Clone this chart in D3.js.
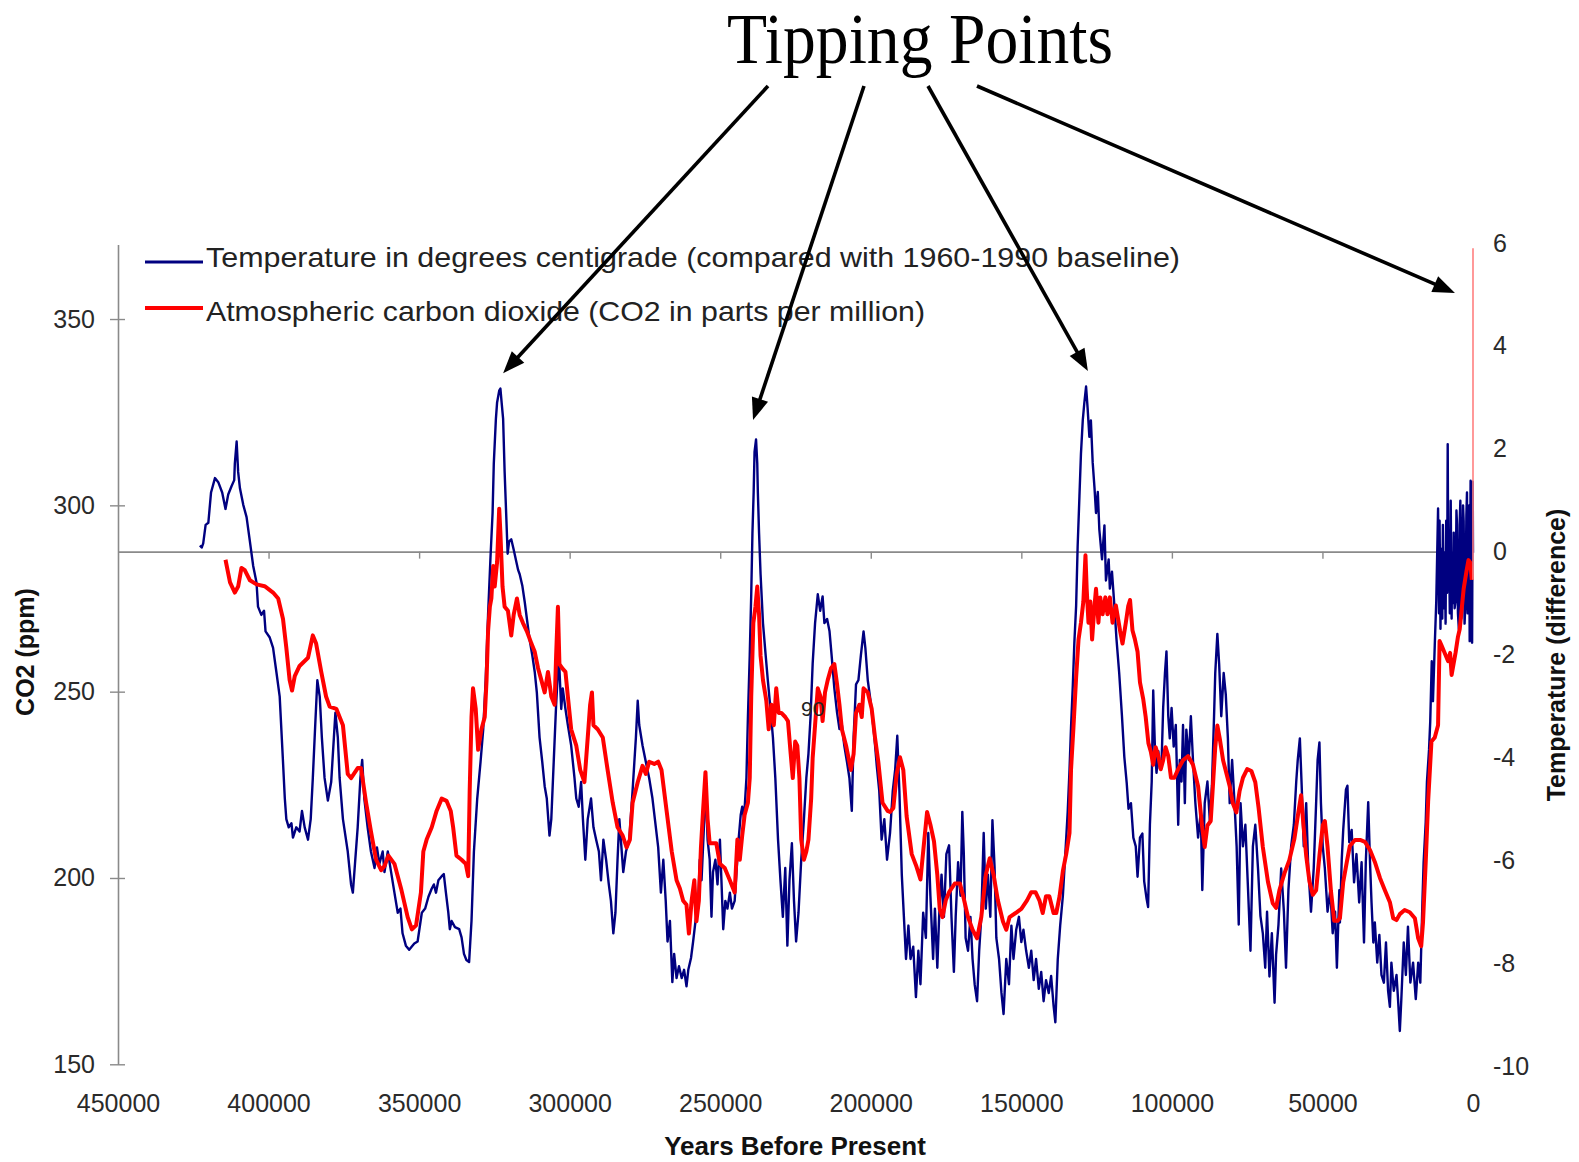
<!DOCTYPE html>
<html>
<head>
<meta charset="utf-8">
<script src="https://cdn.jsdelivr.net/npm/d3@7"></script>
<style>
  body { margin: 0; background: #ffffff; }
  svg text { font-family: "Liberation Sans", Arial, sans-serif; }
</style>
</head>
<body>
<svg id="chart" width="1579" height="1162"></svg>
<script>
// Vostok ice core record: [thousand years before present, value]
const temperature = [
  [422.8,0.12],[422.2,0.08],[421.7,0.16],[420.9,0.52],[420.0,0.56],[419.1,1.15],[417.8,1.43],[416.7,1.35],[415.4,1.15],[414.3,0.83],
  [413.4,1.11],[412.3,1.27],[411.4,1.39],[411.2,1.71],[410.6,2.14],[410.1,1.55],[409.5,1.23],[408.4,0.91],[407.3,0.67],[406.2,0.20],
  [405.1,-0.28],[404.0,-0.60],[403.5,-1.07],[402.4,-1.23],[401.5,-1.15],[401.0,-1.55],[399.6,-1.67],[398.5,-1.87],[397.4,-2.34],[396.3,-2.82],
  [395.2,-4.09],[394.6,-4.80],[394.1,-5.20],[393.3,-5.36],[392.4,-5.28],[391.9,-5.56],[390.8,-5.36],[389.7,-5.44],[388.9,-5.04],[388.0,-5.36],
  [386.9,-5.60],[386.0,-5.20],[385.3,-4.40],[384.5,-3.37],[383.8,-2.50],[383.0,-2.82],[382.3,-3.61],[381.4,-4.40],[380.3,-4.84],[379.2,-4.48],
  [378.3,-3.61],[377.8,-3.13],[377.0,-3.61],[376.4,-4.40],[375.3,-5.20],[373.7,-5.83],[372.6,-6.47],[372.0,-6.63],[371.2,-5.99],[370.4,-5.36],
  [369.5,-4.40],[368.9,-4.05],[368.2,-4.80],[367.1,-5.36],[366.0,-5.83],[364.8,-6.15],[364.0,-5.75],[363.2,-6.07],[362.1,-5.83],[361.5,-6.23],
  [360.4,-5.83],[359.3,-6.23],[358.2,-6.63],[357.1,-7.02],[356.2,-6.94],[355.5,-7.42],[354.4,-7.66],[353.3,-7.74],[351.6,-7.62],[350.5,-7.58],
  [349.1,-7.02],[348.0,-6.94],[346.9,-6.71],[345.8,-6.55],[345.1,-6.47],[344.4,-6.63],[343.6,-6.39],[342.5,-6.31],[341.8,-6.27],[341.1,-6.63],
  [340.3,-7.02],[339.8,-7.34],[339.2,-7.18],[338.1,-7.30],[336.7,-7.34],[335.9,-7.50],[335.1,-7.82],[334.3,-7.94],[333.4,-7.98],[332.6,-7.18],
  [331.8,-5.83],[330.7,-4.80],[329.6,-4.09],[328.7,-3.45],[327.9,-2.50],[327.1,-1.23],[326.3,-0.12],[325.6,0.75],[325.2,1.71],[324.5,2.58],
  [324.1,2.90],[323.4,3.13],[323.0,3.17],[322.6,2.90],[322.1,2.58],[321.6,1.55],[321.0,0.60],[320.6,-0.04],[320.1,0.20],[319.4,0.24],
  [318.6,0.04],[317.7,-0.20],[317.1,-0.36],[316.6,-0.44],[315.7,-0.67],[314.9,-0.99],[314.2,-1.31],[313.3,-1.71],[312.4,-2.02],[311.6,-2.34],
  [310.9,-2.74],[310.0,-3.61],[309.1,-4.09],[308.3,-4.56],[307.6,-4.80],[306.7,-5.52],[306.1,-5.20],[305.3,-4.09],[304.5,-2.98],[303.6,-2.02],
  [302.8,-3.06],[302.3,-2.66],[301.4,-3.06],[300.6,-3.37],[299.5,-3.77],[298.4,-4.40],[297.8,-4.80],[297.0,-4.96],[296.2,-4.48],[295.6,-5.20],
  [294.8,-5.99],[294.0,-5.20],[292.9,-4.80],[292.1,-5.36],[291.2,-5.60],[290.3,-5.83],[289.6,-6.39],[288.8,-5.60],[287.9,-5.99],[287.0,-6.47],
  [286.3,-6.79],[285.5,-7.42],[284.8,-7.02],[284.1,-5.99],[283.5,-5.20],[283.0,-5.60],[282.2,-6.23],[281.3,-5.83],[280.2,-5.60],[279.1,-4.64],
  [278.0,-3.61],[277.4,-2.90],[276.9,-3.37],[275.8,-3.77],[274.7,-4.09],[273.6,-4.40],[272.5,-4.80],[271.7,-5.20],[270.6,-5.75],[269.7,-6.63],
  [268.9,-5.99],[268.1,-6.79],[267.5,-7.58],[266.7,-7.18],[265.9,-8.37],[265.3,-7.82],[264.5,-8.29],[263.7,-8.06],[262.8,-8.29],[262.0,-8.13],
  [261.2,-8.45],[260.6,-8.13],[259.7,-7.90],[259.0,-7.58],[258.2,-7.18],[257.3,-6.79],[256.8,-5.99],[256.2,-6.39],[255.3,-5.20],[254.9,-4.40],
  [254.2,-5.60],[253.5,-5.99],[252.9,-7.10],[252.4,-6.23],[251.6,-5.99],[250.9,-6.47],[250.1,-5.60],[249.6,-6.39],[249.0,-7.34],[248.3,-6.79],
  [247.6,-6.94],[246.8,-6.63],[246.1,-6.94],[245.2,-6.79],[244.6,-6.23],[243.9,-5.60],[243.2,-5.12],[242.7,-4.96],[242.1,-5.20],[241.3,-4.40],
  [240.8,-3.21],[240.2,-2.02],[239.7,-0.83],[239.3,0.36],[238.9,1.15],[238.6,1.94],[238.1,2.18],[237.7,1.71],[237.5,1.15],[237.1,0.36],
  [236.6,-0.44],[235.8,-1.39],[234.9,-2.02],[234.2,-2.50],[233.3,-3.06],[232.5,-3.61],[231.7,-4.40],[230.8,-5.60],[230.0,-6.39],[229.2,-7.10],
  [228.4,-6.15],[227.7,-7.66],[227.0,-6.39],[226.2,-5.67],[225.5,-6.79],[224.8,-7.58],[224.0,-7.02],[223.1,-5.99],[222.2,-5.20],[221.4,-4.40],
  [220.7,-3.93],[220.0,-3.21],[219.3,-2.18],[218.5,-1.39],[217.6,-0.83],[216.8,-1.15],[216.0,-0.87],[215.4,-1.39],[214.5,-1.31],[213.7,-1.55],
  [213.0,-2.02],[212.1,-2.66],[211.2,-3.13],[210.4,-3.45],[209.6,-3.37],[208.8,-3.77],[207.9,-4.09],[207.1,-4.40],[206.3,-5.04],[205.7,-3.61],
  [204.9,-2.58],[204.1,-2.50],[203.3,-2.02],[202.4,-1.55],[201.8,-1.87],[201.0,-2.50],[199.9,-2.98],[198.8,-3.61],[198.0,-4.17],[197.2,-4.64],
  [196.4,-5.60],[195.5,-5.20],[194.6,-5.99],[193.6,-5.47],[192.7,-4.65],[191.9,-4.24],[191.2,-3.58],[190.5,-4.65],[189.7,-6.28],[189.0,-7.10],
  [188.3,-7.92],[187.5,-7.27],[186.8,-7.92],[185.9,-7.68],[185.0,-8.66],[184.2,-7.76],[183.5,-8.41],[182.6,-7.02],[181.7,-7.51],[180.9,-5.47],
  [180.2,-6.69],[179.3,-7.92],[178.7,-6.94],[177.9,-8.09],[177.3,-7.10],[176.5,-6.28],[175.7,-7.10],[174.9,-5.88],[174.0,-5.71],[173.2,-7.10],
  [172.4,-8.17],[171.8,-7.10],[171.0,-6.04],[170.2,-6.69],[169.6,-5.06],[169.1,-5.88],[168.5,-7.51],[167.7,-7.76],[166.9,-7.10],[166.2,-7.92],
  [165.5,-8.41],[164.7,-8.74],[164.0,-7.76],[163.3,-7.10],[162.5,-5.47],[161.8,-6.94],[161.1,-6.28],[160.3,-7.10],[159.6,-5.22],[158.9,-6.12],
  [158.3,-7.51],[157.4,-7.92],[156.6,-8.58],[155.9,-8.99],[155.0,-7.92],[154.1,-8.41],[153.3,-7.27],[152.6,-7.92],[151.7,-7.35],[150.8,-7.10],
  [150.0,-7.59],[149.3,-7.35],[148.4,-7.76],[147.5,-8.09],[146.7,-7.76],[145.9,-8.33],[145.1,-7.92],[144.2,-8.50],[143.4,-8.17],[142.6,-8.74],
  [141.8,-8.33],[140.9,-8.58],[140.1,-8.25],[139.3,-8.82],[138.7,-9.15],[137.9,-7.92],[137.1,-7.27],[136.2,-6.69],[135.4,-5.88],[134.6,-5.06],
  [134.0,-4.24],[133.5,-3.42],[132.9,-2.60],[132.4,-1.78],[131.8,-1.05],[131.3,0.10],[130.7,1.08],[130.2,1.90],[129.6,2.55],[129.1,2.88],
  [128.5,3.21],[128.0,2.80],[127.4,2.23],[126.9,2.55],[126.3,1.73],[125.7,1.24],[125.2,0.75],[124.6,1.16],[124.1,0.43],[123.2,-0.15],
  [122.4,0.51],[121.9,-0.56],[121.0,-0.15],[120.6,-0.72],[119.9,-0.39],[119.1,-1.05],[118.4,-1.70],[117.5,-2.36],[116.6,-3.18],[115.8,-3.99],
  [115.0,-4.50],[114.4,-5.00],[113.6,-4.89],[112.8,-5.56],[112.0,-5.73],[111.4,-6.32],[110.6,-5.56],[109.8,-5.48],[109.2,-6.41],[108.4,-6.75],
  [107.9,-6.91],[107.3,-5.31],[106.7,-4.47],[106.2,-2.70],[105.6,-3.88],[105.1,-4.30],[104.5,-3.88],[104.0,-4.22],[103.4,-4.05],[102.9,-3.04],
  [102.3,-2.36],[101.8,-1.94],[101.2,-3.20],[100.7,-3.63],[100.1,-3.04],[99.4,-3.79],[98.7,-3.37],[97.9,-5.31],[97.4,-4.05],[96.8,-4.47],
  [96.3,-3.37],[95.7,-4.89],[95.2,-3.46],[94.4,-4.05],[93.7,-3.20],[93.0,-4.05],[92.2,-4.89],[91.3,-5.56],[90.4,-5.06],[89.9,-6.58],
  [89.1,-4.89],[88.2,-4.47],[87.4,-5.23],[86.7,-4.55],[86.0,-3.20],[85.6,-2.36],[84.9,-1.60],[84.3,-2.19],[83.6,-3.20],[82.8,-2.36],
  [82.1,-2.78],[81.4,-3.63],[80.8,-4.89],[80.0,-4.05],[79.2,-4.89],[78.5,-5.73],[77.8,-7.25],[77.2,-4.89],[76.4,-5.73],[75.6,-5.31],
  [74.7,-6.58],[73.9,-7.76],[73.1,-5.73],[72.3,-5.31],[71.4,-6.16],[70.6,-7.08],[69.8,-7.42],[69.0,-8.09],[68.4,-7.00],[67.6,-8.26],
  [66.8,-7.42],[65.9,-8.77],[65.4,-7.84],[64.6,-7.25],[63.7,-6.16],[62.8,-7.00],[62.1,-8.09],[61.3,-6.58],[60.4,-5.73],[59.5,-5.31],
  [58.7,-4.47],[58.2,-4.05],[57.5,-3.63],[56.9,-4.55],[56.2,-5.73],[55.4,-4.89],[54.7,-6.16],[53.8,-7.00],[52.9,-6.16],[52.1,-4.89],
  [51.6,-4.05],[51.0,-3.71],[50.5,-4.89],[49.9,-5.73],[49.2,-6.16],[48.3,-7.00],[47.4,-6.58],[46.6,-7.42],[45.8,-7.00],[45.2,-8.09],
  [44.4,-6.58],[44.2,-7.21],[43.6,-6.00],[43.1,-5.41],[42.2,-4.63],[41.7,-4.55],[41.1,-5.65],[40.3,-5.41],[39.5,-6.43],[38.7,-5.88],
  [37.8,-6.82],[37.0,-6.04],[36.2,-7.60],[35.6,-6.04],[34.8,-4.87],[34.2,-6.04],[33.7,-6.82],[33.1,-7.60],[32.6,-7.21],[31.8,-7.99],
  [31.1,-7.45],[30.4,-8.23],[29.6,-8.38],[28.9,-7.60],[28.2,-8.54],[27.6,-8.85],[27.1,-7.99],[26.3,-8.54],[25.4,-8.23],[24.9,-8.70],
  [24.3,-9.32],[23.8,-8.70],[23.0,-7.60],[22.3,-8.23],[21.6,-7.29],[20.8,-8.38],[19.9,-7.99],[19.0,-8.70],[18.2,-7.99],[17.5,-8.38],
  [16.8,-6.82],[16.4,-6.04],[15.7,-5.26],[15.3,-4.48],[14.6,-3.85],[14.2,-3.30],[13.7,-2.13],[13.3,-2.91],[12.7,-1.82],[12.2,-0.96],
  [11.6,0.84],[11.3,-1.20],[11.1,0.60],[10.8,-1.50],[10.5,0.05],[10.2,-1.30],[10.0,0.52],[9.7,-1.10],[9.4,-0.02],[9.1,-1.40],
  [8.9,0.60],[8.6,-0.80],[8.4,2.09],[8.2,-0.60],[8.0,0.21],[7.7,-1.20],[7.4,0.99],[7.1,-1.30],[6.9,-0.02],[6.6,-1.00],
  [6.4,0.37],[6.1,-1.10],[5.8,-0.96],[5.5,0.80],[5.3,0.52],[5.0,-1.20],[4.7,-1.51],[4.4,0.60],[4.2,0.99],[3.9,-1.30],
  [3.6,-0.41],[3.3,0.90],[3.1,0.60],[2.8,-1.40],[2.5,-0.96],[2.2,0.70],[2.0,1.15],[1.8,-1.20],[1.6,-0.57],[1.3,0.90],
  [1.1,-1.74],[0.8,1.38],[0.6,-1.00],[0.5,0.21],[0.3,-1.77],[0.1,1.36],[0.0,-0.02]
];

const co2 = [
  [414.3,285.4],[412.8,279.3],[411.2,276.6],[410.1,278.2],[409.0,283.2],[407.9,282.6],[406.2,279.9],[404.0,278.8],[401.3,278.3],[398.5,276.6],
  [396.8,275.0],[395.2,269.5],[394.1,261.8],[393.0,253.1],[392.2,250.3],[391.3,254.2],[389.7,256.9],[386.9,259.1],[385.3,265.1],[384.2,262.9],
  [382.5,255.3],[380.9,248.7],[379.7,246.0],[377.5,245.4],[375.3,241.0],[373.7,227.9],[372.6,226.8],[370.4,229.5],[369.3,229.5],[367.6,220.2],
  [366.0,212.5],[364.3,204.9],[362.6,202.1],[361.5,203.2],[360.2,206.0],[358.2,203.8],[356.0,197.2],[353.8,189.5],[352.4,186.2],[351.0,187.3],
  [349.4,196.1],[348.6,207.1],[347.5,210.3],[345.8,213.6],[344.2,218.0],[342.5,221.3],[340.9,220.7],[339.5,218.0],[338.7,213.6],[337.6,206.0],
  [335.9,204.9],[334.5,203.8],[333.7,200.5],[333.2,223.5],[332.6,243.2],[332.1,250.9],[331.2,245.4],[330.4,234.4],[329.3,239.9],[328.2,243.2],
  [327.6,253.1],[327.1,266.2],[326.5,272.8],[326.0,275.0],[325.4,283.7],[324.9,278.2],[324.1,284.8],[323.4,299.1],[323.0,292.5],[322.3,278.2],
  [321.6,272.8],[320.5,271.7],[319.4,265.1],[318.6,270.6],[317.5,275.0],[316.6,270.6],[315.5,268.4],[314.2,266.2],[312.7,262.9],[311.6,260.7],
  [310.5,256.3],[309.4,253.1],[308.3,249.8],[307.2,255.3],[306.1,248.7],[305.0,246.5],[304.5,259.6],[303.9,272.8],[303.4,257.4],[302.5,256.3],
  [301.4,255.3],[300.6,248.7],[299.5,239.9],[297.8,235.5],[296.5,229.0],[295.1,225.7],[294.0,237.7],[293.2,246.5],[292.6,249.8],[292.1,241.0],
  [290.7,239.9],[289.0,237.7],[287.4,229.0],[285.7,220.2],[284.1,213.6],[282.4,211.4],[281.1,208.2],[280.0,210.3],[279.1,220.2],[277.4,225.7],
  [275.8,230.1],[274.7,227.9],[273.6,231.2],[271.9,230.6],[270.6,231.2],[269.5,229.0],[267.8,218.0],[266.1,207.1],[264.5,199.4],[263.4,197.2],
  [262.3,193.9],[261.2,192.8],[260.4,185.1],[259.5,193.9],[258.6,199.4],[257.9,188.4],[257.1,193.9],[256.4,208.2],[255.7,218.0],[254.9,228.4],
  [254.2,215.8],[253.5,209.3],[252.4,209.3],[251.3,209.3],[250.1,203.8],[248.5,202.7],[246.8,199.4],[245.2,196.1],[244.3,210.3],[243.5,204.9],
  [242.7,211.4],[241.9,216.9],[240.8,220.2],[240.2,226.8],[239.7,248.7],[239.0,268.4],[238.3,272.8],[237.7,278.2],[237.1,270.6],[236.6,259.6],
  [235.8,253.1],[234.7,247.6],[233.9,239.9],[233.0,246.5],[232.2,241.0],[231.4,250.9],[230.6,244.3],[229.7,244.3],[228.4,243.2],[227.5,242.1],
  [226.6,233.3],[225.9,226.8],[225.1,236.6],[224.4,235.5],[223.7,226.8],[223.1,210.3],[222.2,204.9],[221.4,207.1],[220.7,210.3],[219.8,221.3],
  [219.3,232.2],[218.5,241.0],[217.6,250.9],[216.7,248.7],[216.0,242.1],[215.2,249.8],[214.3,253.1],[213.2,256.3],[212.1,257.4],[211.2,252.0],
  [210.4,246.5],[209.6,239.9],[208.2,235.5],[206.6,229.0],[205.7,233.3],[204.9,244.3],[203.8,246.5],[203.0,243.2],[202.4,250.9],[201.0,249.8],
  [199.7,245.4],[198.6,237.7],[197.5,231.2],[196.1,220.2],[194.4,218.0],[193.6,217.7],[192.5,218.8],[191.4,227.9],[190.3,232.4],[189.2,229.0],
  [188.1,216.6],[186.4,206.4],[184.8,203.0],[183.5,199.6],[182.4,208.7],[181.3,217.7],[180.2,214.3],[179.0,209.8],[177.9,200.8],[177.1,191.7],
  [176.2,189.5],[175.1,194.0],[174.0,196.2],[172.1,198.5],[170.4,198.5],[169.3,195.1],[167.7,189.5],[166.2,186.1],[164.7,183.8],[163.3,189.5],
  [161.8,200.8],[160.5,205.3],[159.2,200.8],[157.8,194.0],[156.1,188.3],[155.0,186.1],[153.9,189.5],[151.9,190.6],[150.0,191.7],[148.1,194.0],
  [146.7,196.2],[145.3,196.2],[144.0,194.0],[142.9,190.6],[141.8,195.1],[140.7,195.1],[139.3,190.6],[138.4,190.6],[137.3,195.1],[136.2,201.9],
  [135.1,206.4],[134.0,212.1],[133.5,229.0],[132.7,240.3],[131.8,253.9],[131.0,264.0],[130.2,268.5],[129.4,274.2],[128.7,286.6],[128.3,277.6],
  [127.7,268.5],[127.1,274.2],[126.5,264.0],[125.7,273.1],[125.2,277.6],[124.4,268.5],[123.8,275.3],[123.0,270.8],[122.1,275.3],[121.4,270.8],
  [120.6,275.3],[119.7,268.5],[118.6,273.1],[117.2,266.3],[116.4,262.9],[115.3,268.5],[114.5,273.0],[113.9,274.6],[113.1,266.5],[112.3,264.1],
  [111.4,260.7],[110.6,252.5],[109.5,247.9],[108.7,243.2],[107.8,236.2],[107.0,233.9],[106.2,230.4],[105.4,235.1],[104.5,232.7],[103.7,229.2],
  [102.9,231.6],[102.1,235.1],[101.2,232.7],[100.3,226.9],[99.2,226.9],[97.9,229.2],[96.3,231.6],[94.6,232.7],[93.0,230.4],[91.3,224.6],
  [90.0,214.1],[89.1,208.3],[88.2,214.1],[87.1,215.3],[86.3,225.7],[85.6,235.1],[84.9,240.9],[84.1,237.4],[83.0,231.6],[81.9,228.1],
  [80.8,224.6],[79.7,219.9],[78.6,217.6],[77.5,223.4],[76.4,226.9],[75.0,229.2],[73.6,228.7],[72.3,225.7],[71.2,218.8],[69.8,208.3],
  [68.1,199.0],[66.5,193.2],[65.4,192.0],[64.3,196.7],[62.6,201.3],[61.0,204.8],[59.3,210.6],[58.0,217.6],[57.1,222.2],[56.3,214.1],
  [55.4,206.0],[54.3,199.0],[53.2,195.5],[52.1,196.7],[51.0,206.0],[49.9,214.1],[49.2,215.3],[48.3,208.3],[47.2,196.7],[46.1,188.5],
  [45.0,188.5],[44.2,189.2],[43.1,198.9],[41.9,204.3],[40.9,208.6],[39.2,210.2],[37.5,210.2],[35.9,209.7],[34.2,207.5],[32.6,204.3],
  [30.9,200.0],[29.3,196.8],[27.6,193.5],[26.5,189.2],[25.4,188.7],[24.3,190.3],[22.7,191.4],[21.0,190.8],[19.3,189.2],[18.2,183.8],
  [17.2,181.7],[16.6,188.1],[15.7,204.3],[14.9,220.5],[13.8,236.6],[12.7,237.7],[11.6,241.0],[11.1,263.6],[10.5,262.5],[9.4,260.4],
  [8.3,258.2],[7.6,260.4],[7.1,254.5],[5.8,260.4],[5.0,264.7],[4.4,266.8],[3.1,277.6],[2.1,282.6],[1.5,285.3],[0.9,284.6],[0.4,280.0]
];

// Present-day CO2 reading, drawn as a spike at year 0
const presentCo2 = 369;

const co2Ticks = [150, 200, 250, 300, 350];
const tempTicks = [-10, -8, -6, -4, -2, 0, 2, 4, 6];
const yearTicks = [450000, 400000, 350000, 300000, 250000, 200000, 150000, 100000, 50000, 0];

// Interglacial peaks pointed to by the annotation arrows: [kyr BP, °C]
const tippingPoints = [[322.1, 3.47], [239.1, 2.56], [127.9, 3.51], [6.0, 5.03]];

const legendLabels = [
  "Temperature in degrees centigrade (compared with 1960-1990 baseline)",
  "Atmospheric carbon dioxide (CO2 in parts per million)"
];

const svg = d3.select("#chart");

const x = d3.scaleLinear().domain([450000, 0]).range([118, 1473]);
const yCo2 = d3.scaleLinear().domain([150, 370]).range([1064.3, 244.5]);
const yTemp = d3.scaleLinear().domain([-10, 6]).range([1066, 243]);

const axisGrey = "#8a8a8a";
const labelColor = "#2a2a2a";

// zero-degree baseline with year ticks
const zeroAxis = svg.append("g")
  .attr("transform", `translate(0,${yTemp(0)})`)
  .call(d3.axisBottom(x)
    .tickValues(yearTicks.filter(d => d > 0 && d < 450000))
    .tickSize(7).tickSizeOuter(0).tickFormat(""));
zeroAxis.select(".domain").attr("stroke", axisGrey).attr("stroke-width", 1.6);
zeroAxis.selectAll(".tick line").attr("stroke", axisGrey).attr("stroke-width", 1.4);

// temperature series
const tempLine = d3.line()
  .x(d => x(d[0] * 1000))
  .y(d => yTemp(d[1]));
svg.append("path")
  .datum(temperature)
  .attr("fill", "none")
  .attr("stroke", "#000080")
  .attr("stroke-width", 2.4)
  .attr("stroke-linejoin", "round")
  .attr("d", tempLine);

// CO2 series
const co2Line = d3.line()
  .x(d => x(d[0] * 1000))
  .y(d => yCo2(d[1]));
svg.append("path")
  .datum(co2)
  .attr("fill", "none")
  .attr("stroke", "#ff0000")
  .attr("stroke-width", 4)
  .attr("stroke-linejoin", "round")
  .attr("d", co2Line);

// modern CO2 spike
svg.append("path")
  .datum([[0, co2[co2.length - 1][1]], [0, presentCo2]])
  .attr("fill", "none")
  .attr("stroke", "#ff7f7f")
  .attr("stroke-width", 1.6)
  .attr("d", co2Line);

// left CO2 axis, ticks crossing the line
const leftAxis = svg.append("g")
  .attr("transform", `translate(${x(450000)},0)`)
  .call(d3.axisLeft(yCo2).tickValues(co2Ticks).tickSize(8).tickSizeOuter(0).tickPadding(15));
leftAxis.select(".domain").attr("stroke", axisGrey).attr("stroke-width", 1.6);
leftAxis.selectAll(".tick line").attr("stroke", axisGrey).attr("stroke-width", 1.4).attr("x2", -8).attr("x1", 7);
leftAxis.selectAll(".tick text")
  .attr("font-size", 25).attr("fill", labelColor)
  .style("font-family", "'Liberation Sans', Arial, sans-serif");

// right temperature axis labels
const rightAxis = svg.append("g")
  .attr("transform", `translate(${x(0)},0)`)
  .call(d3.axisRight(yTemp).tickValues(tempTicks).tickSize(0).tickPadding(20).tickFormat(d => String(d)));
rightAxis.select(".domain").remove();
rightAxis.selectAll(".tick text")
  .attr("font-size", 25).attr("fill", labelColor)
  .style("font-family", "'Liberation Sans', Arial, sans-serif");

// year labels along the bottom
const bottomAxis = svg.append("g")
  .attr("transform", "translate(0,1094)")
  .call(d3.axisBottom(x).tickValues(yearTicks).tickSize(0).tickPadding(0).tickFormat(d => String(d)));
bottomAxis.select(".domain").remove();
bottomAxis.selectAll(".tick text")
  .attr("font-size", 25).attr("fill", labelColor)
  .style("font-family", "'Liberation Sans', Arial, sans-serif");

// axis titles
svg.append("text")
  .attr("transform", "translate(34,652) rotate(-90)")
  .attr("text-anchor", "middle")
  .attr("font-size", 25).attr("font-weight", "bold").attr("fill", "#111")
  .text("CO2 (ppm)");
svg.append("text")
  .attr("transform", "translate(1565,655) rotate(-90)")
  .attr("text-anchor", "middle")
  .attr("font-size", 25).attr("font-weight", "bold").attr("fill", "#111")
  .text("Temperature (difference)");
svg.append("text")
  .attr("x", 795).attr("y", 1155)
  .attr("text-anchor", "middle")
  .attr("font-size", 26).attr("font-weight", "bold").attr("fill", "#111")
  .text("Years Before Present");

// stray data label
svg.append("text")
  .attr("x", 801).attr("y", 716)
  .attr("font-size", 21).attr("fill", "#222")
  .text("90");

// legend
const legendColors = ["#000080", "#ff0000"];
const legendWidths = [974, 719];
const legendLineY = [262, 308];
const legendTextY = [267, 321];
legendLabels.forEach((label, i) => {
  svg.append("line")
    .attr("x1", 145).attr("x2", 203).attr("y1", legendLineY[i]).attr("y2", legendLineY[i])
    .attr("stroke", legendColors[i]).attr("stroke-width", i ? 4 : 3.2);
  svg.append("text")
    .attr("x", 206).attr("y", legendTextY[i])
    .attr("font-size", 28).attr("fill", "#222")
    .attr("textLength", legendWidths[i]).attr("lengthAdjust", "spacingAndGlyphs")
    .text(label);
});

// title
svg.append("text")
  .attr("x", 727).attr("y", 63)
  .attr("font-size", 72)
  .attr("textLength", 386).attr("lengthAdjust", "spacingAndGlyphs")
  .style("font-family", "'Liberation Serif', 'DejaVu Serif', serif")
  .attr("fill", "#000")
  .text("Tipping Points");

// arrows from the title down to each peak
const arrowStarts = [[768, 86], [864, 86], [928, 86], [977, 86]];
const headLen = 22, headHalf = 8.5;
tippingPoints.forEach((p, i) => {
  const [sx, sy] = arrowStarts[i];
  const tx = x(p[0] * 1000), ty = yTemp(p[1]);
  const dx = tx - sx, dy = ty - sy, len = Math.hypot(dx, dy);
  const ux = dx / len, uy = dy / len;
  const bx = tx - ux * headLen, by = ty - uy * headLen;
  svg.append("line")
    .attr("x1", sx).attr("y1", sy).attr("x2", bx + ux * 2).attr("y2", by + uy * 2)
    .attr("stroke", "#000").attr("stroke-width", 3.6);
  svg.append("path")
    .attr("d", `M${tx},${ty}L${bx - uy * headHalf},${by + ux * headHalf}L${bx + uy * headHalf},${by - ux * headHalf}Z`)
    .attr("fill", "#000");
});
</script>
</body>
</html>
